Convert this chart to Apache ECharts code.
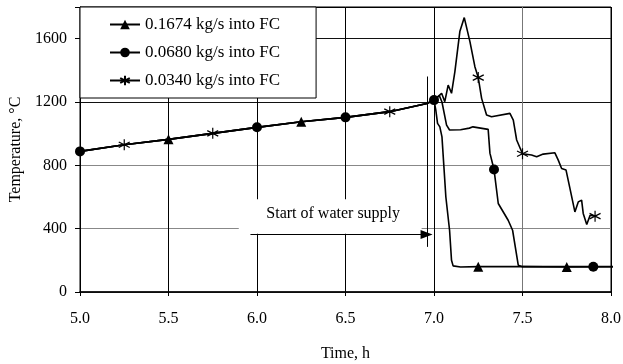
<!DOCTYPE html>
<html>
<head>
<meta charset="utf-8">
<script src="https://cdn.jsdelivr.net/npm/echarts@6/dist/echarts.min.js"></script>
<style>
  html, body { margin: 0; padding: 0; background: #fff; }
  #chart { width: 623px; height: 364px; }
</style>
</head>
<body>
<div id="chart"></div>
<script>
// shared heating phase (all three runs overlap up to 7.0 h)
const commonTime = [5.0, 5.25, 5.5, 5.75, 6.0, 6.25, 6.5, 6.75, 6.96, 7.0];
const commonTemp = [888, 930, 964, 1002, 1040, 1075, 1103, 1139, 1190, 1212];

// 0.1674 kg/s
const fastTime = [7.01, 7.02, 7.033, 7.045, 7.056, 7.067, 7.088, 7.099, 7.108, 7.15, 7.25, 7.5, 7.75, 8.03];
const fastTemp = [1150, 1065, 1043, 980, 790, 600, 390, 200, 165, 158, 160, 160, 158, 160];
const fastMarks = [5.5, 6.25, 7.25, 7.75];

// 0.0680 kg/s
const midTime = [7.03, 7.045, 7.071, 7.088, 7.15, 7.2, 7.22, 7.306, 7.316, 7.339, 7.363, 7.419, 7.444, 7.476, 7.5, 7.9, 8.03];
const midTemp = [1240, 1200, 1054, 1023, 1025, 1035, 1043, 1027, 877, 774, 559, 453, 390, 169, 160, 160, 160];
const midMarks = [5.0, 6.0, 6.5, 7.0, 7.339, 7.9];

// 0.0340 kg/s
const slowTime = [7.043, 7.061, 7.08, 7.099, 7.118, 7.146, 7.171, 7.203, 7.231, 7.25, 7.269, 7.297, 7.325, 7.429, 7.448, 7.467, 7.5,
  7.551, 7.58, 7.617, 7.683, 7.702, 7.721, 7.746, 7.768, 7.796, 7.815, 7.834, 7.843, 7.863, 7.882, 7.91];
const slowTemp = [1255, 1202, 1307, 1255, 1392, 1645, 1733, 1581, 1423, 1354, 1223, 1118, 1107, 1128, 1086, 960, 873,
  865, 854, 871, 879, 833, 780, 770, 654, 506, 569, 580, 496, 426, 485, 479];
const slowMarks = [5.25, 5.75, 6.75, 7.25, 7.5, 7.91];

const seriesNames = ['0.1674 kg/s into FC', '0.0680 kg/s into FC', '0.0340 kg/s into FC'];
const xTicks = [5.0, 5.5, 6.0, 6.5, 7.0, 7.5, 8.0];
const yTicks = [0, 400, 800, 1200, 1600];

// water supply annotation
const supplyTime = 6.964;
const supplyLine = [285, 1361];
const arrowFrom = 5.963;
const arrowTemp = 363;
const labelBox = [[5.897, 368], [6.93, 586]];

const FONT = 'Liberation Serif';
const FS = 16;
const STAR = 'path://M5,0L5,10M0.7,2.5L9.3,7.5M0.7,7.5L9.3,2.5';

// build points; only the listed times get a marker
function buildData(times, temps, marks) {
  const t = commonTime.concat(times);
  const v = commonTemp.concat(temps);
  return t.map((x, i) => {
    const item = { value: [x, v[i]] };
    if (!marks.includes(x)) item.symbol = 'none';
    return item;
  });
}

const chart = echarts.init(document.getElementById('chart'));

function makeSeries(name, data, symbol, size, extra) {
  return Object.assign({
    name: name,
    type: 'line',
    data: data,
    symbol: symbol,
    symbolSize: size,
    showSymbol: true,
    clip: false,
    animation: false,
    z: 4,
    lineStyle: { color: '#000', width: 1.6 },
    itemStyle: { color: '#000', borderColor: '#000', borderWidth: 0 },
  }, extra || {});
}

const option = {
  animation: false,
  backgroundColor: '#fff',
  textStyle: { fontFamily: FONT },
  grid: {
    left: 80, right: 12, top: 7, bottom: 72,
    show: true, borderColor: '#000', borderWidth: 1,
    containLabel: false, outerBoundsMode: 'none',
  },
  legend: {
    orient: 'vertical',
    left: 80, top: 7,
    padding: [9, 36, 9, 29],
    itemGap: 11,
    itemWidth: 30,
    itemHeight: 12,
    backgroundColor: '#fff',
    borderColor: '#000',
    borderWidth: 1,
    data: seriesNames,
    textStyle: { fontFamily: FONT, fontSize: 17, color: '#000' },
  },
  xAxis: {
    type: 'value',
    min: 5, max: 8, interval: 0.5,
    name: 'Time, h',
    nameLocation: 'middle',
    nameGap: 54,
    nameTextStyle: { fontFamily: FONT, fontSize: FS, color: '#000' },
    axisLine: { lineStyle: { color: '#000', width: 1.5 } },
    axisTick: { show: true, length: 4, lineStyle: { color: '#000' } },
    axisLabel: {
      margin: 19, color: '#000', fontFamily: FONT, fontSize: FS,
      formatter: (v) => (xTicks.includes(v) ? v.toFixed(1) : ''),
    },
    splitLine: {
      show: true,
      lineStyle: { color: ['#000', '#000', '#000', '#000', '#000', '#777', '#000'], width: 1 },
    },
  },
  yAxis: {
    type: 'value',
    min: 0, max: 1800, interval: 400,
    name: 'Temperature, °C',
    nameLocation: 'middle',
    nameGap: 56,
    nameTextStyle: { fontFamily: FONT, fontSize: FS, color: '#000' },
    axisLine: { show: true, lineStyle: { color: '#000', width: 1 } },
    axisTick: { show: true, length: 5, lineStyle: { color: '#000' } },
    axisLabel: {
      margin: 13, color: '#000', fontFamily: FONT, fontSize: FS,
      formatter: (v) => (yTicks.includes(v) ? String(v) : ''),
    },
    splitLine: {
      show: true,
      lineStyle: { color: ['#333', '#888', '#888', '#111', '#111', '#000'], width: 1 },
    },
  },
  series: [
    // white box behind the annotation text
    {
      type: 'line',
      data: [],
      z: 1,
      markArea: {
        silent: true,
        itemStyle: { color: '#fff' },
        label: {
          show: true,
          position: 'inside',
          color: '#000',
          fontFamily: FONT,
          fontSize: FS,
          offset: [3, -3],
        },
        data: [[{ name: 'Start of water supply', coord: labelBox[0] }, { coord: labelBox[1] }]],
      },
    },
    // marker line and arrow for start of water supply
    {
      type: 'line',
      data: [],
      z: 3,
      markLine: {
        silent: true,
        animation: false,
        label: { show: false },
        lineStyle: { color: '#000', type: 'solid', width: 1 },
        data: [
          [{ coord: [supplyTime, supplyLine[0]], symbol: 'none' }, { coord: [supplyTime, supplyLine[1]], symbol: 'none' }],
          [{ coord: [arrowFrom, arrowTemp], symbol: 'none' }, { coord: [supplyTime - 0.006, arrowTemp], symbol: 'triangle', symbolSize: [9, 12], symbolRotate: -90 }],
        ],
      },
    },
    makeSeries(seriesNames[0], buildData(fastTime, fastTemp, fastMarks), 'triangle', 10),
    makeSeries(seriesNames[1], buildData(midTime, midTemp, midMarks), 'circle', 10),
    makeSeries(seriesNames[2], buildData(slowTime, slowTemp, slowMarks), STAR, 11, {
      itemStyle: { color: 'none', borderColor: '#000', borderWidth: 1.2 },
    }),
  ],
};

chart.setOption(option);
</script>
</body>
</html>
